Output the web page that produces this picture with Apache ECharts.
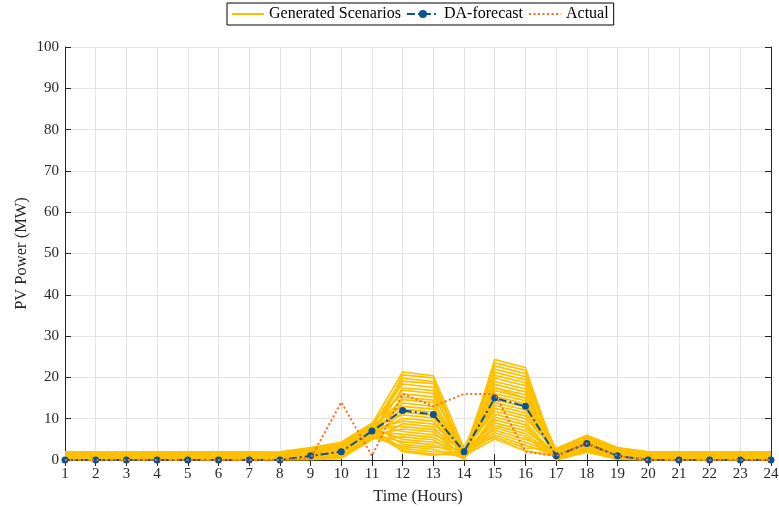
<!DOCTYPE html>
<html>
<head>
<meta charset="utf-8">
<script src="https://cdn.jsdelivr.net/npm/echarts@6/dist/echarts.min.js"></script>
<style>
  html, body { margin: 0; padding: 0; background: #fff; }
  #chart { width: 779px; height: 507px; }
</style>
</head>
<body>
<div id="chart"></div>
<script>
// Hours of the day
const hours = [1,2,3,4,5,6,7,8,9,10,11,12,13,14,15,16,17,18,19,20,21,22,23,24];

// Day-ahead forecast (MW)
const daForecast = [0,0,0,0,0,0,0,0,1,2,7,12,11,2,15,13,1,4,1,0,0,0,0,0];

// Actual PV output (MW)
const actual = [0,0,0,0,0,0,0,0,0.4,14,1,16,13,16,16,2,1,4,1,0,0,0,0,0];

// Generated PV scenarios (MW), one array per scenario
const sc01 = [1.8,1.9,1.7,1.9,1.8,2.0,1.9,1.8,2.9,4.1,8.7,21.3,20.4,2.8,17.5,15.0,2.7,5.8,2.9,1.9,1.8,2.0,1.9,1.8];
const sc02 = [0.2,0.1,0.3,0.2,0.1,0.2,0.3,0.2,0.4,1.0,5.3,20.6,19.9,0.3,24.3,22.4,0.2,2.3,0.5,0.1,0.2,0.1,0.2,0.3];
const sc03 = [1.2,1.1,1.3,1.0,1.2,1.1,1.3,1.2,2.1,3.3,7.9,19.8,19.0,1.9,9.7,7.8,1.6,4.9,2.2,1.3,1.2,1.1,1.2,1.0];
const sc04 = [0.7,0.8,0.6,0.8,0.7,0.6,0.8,0.7,1.2,2.1,6.4,19.1,18.5,1.0,21.2,19.4,0.9,3.6,1.1,0.6,0.8,0.7,0.6,0.8];
const sc05 = [1.5,1.6,1.4,1.5,1.7,1.5,1.6,1.4,2.6,3.8,8.3,18.4,17.6,2.4,13.2,11.4,2.3,5.4,2.6,1.6,1.5,1.7,1.5,1.4];
const sc06 = [0.4,0.3,0.5,0.4,0.3,0.5,0.4,0.3,0.7,1.4,5.7,17.5,16.8,0.6,19.0,17.2,0.5,2.7,0.7,0.4,0.3,0.5,0.4,0.3];
const sc07 = [1.0,0.9,1.1,1.0,0.9,1.0,1.1,0.9,1.7,2.8,7.2,16.9,16.1,1.5,23.5,21.7,1.3,4.3,1.7,1.0,0.9,1.1,1.0,0.9];
const sc08 = [1.9,2.0,1.8,1.9,2.0,1.9,1.8,2.0,3.0,4.3,8.9,16.0,15.3,2.9,7.2,5.0,2.8,6.0,3.0,2.0,1.9,1.8,2.0,1.9];
const sc09 = [0.1,0.2,0.1,0.0,0.1,0.2,0.1,0.1,0.2,0.6,5.1,15.2,14.5,0.1,16.8,15.0,0.1,2.1,0.3,0.1,0.0,0.1,0.2,0.1];
const sc10 = [1.3,1.4,1.3,1.2,1.4,1.3,1.2,1.4,2.2,3.5,7.6,14.6,13.9,2.0,22.0,20.2,1.8,5.0,2.3,1.3,1.4,1.2,1.3,1.4];
const sc11 = [0.6,0.5,0.7,0.6,0.5,0.7,0.6,0.5,1.0,1.8,6.1,13.8,13.0,0.8,11.1,9.2,0.7,3.2,0.9,0.5,0.6,0.7,0.5,0.6];
const sc12 = [1.7,1.6,1.8,1.7,1.6,1.7,1.8,1.6,2.7,3.9,8.5,13.0,12.3,2.6,20.5,18.7,2.5,5.6,2.7,1.7,1.8,1.6,1.7,1.8];
const sc13 = [0.9,1.0,0.8,0.9,1.0,0.8,0.9,1.0,1.5,2.5,6.8,12.3,11.6,1.3,6.0,3.6,1.1,3.9,1.4,0.9,1.0,0.8,0.9,1.0];
const sc14 = [0.3,0.4,0.2,0.3,0.4,0.3,0.2,0.4,0.5,1.2,5.5,11.6,10.8,0.4,17.5,15.8,0.3,2.5,0.6,0.3,0.2,0.4,0.3,0.2];
const sc15 = [1.4,1.5,1.6,1.4,1.5,1.6,1.4,1.5,2.4,3.6,8.0,10.9,10.2,2.2,14.6,12.8,2.0,5.2,2.4,1.5,1.4,1.6,1.5,1.4];
const sc16 = [0.8,0.7,0.9,0.8,0.7,0.9,0.8,0.7,1.4,2.3,6.6,10.1,9.4,1.2,22.8,20.9,1.0,3.7,1.3,0.8,0.7,0.9,0.8,0.7];
const sc17 = [1.1,1.2,1.0,1.1,1.2,1.0,1.1,1.2,1.9,3.0,7.4,9.4,8.7,1.7,9.0,7.1,1.5,4.6,1.9,1.1,1.2,1.0,1.1,1.2];
const sc18 = [0.0,0.1,0.0,0.1,0.0,0.1,0.0,0.1,0.1,0.4,4.9,8.8,8.0,0.0,19.8,18.0,0.0,1.9,0.2,0.0,0.1,0.0,0.1,0.0];
const sc19 = [1.6,1.7,1.5,1.6,1.7,1.5,1.6,1.7,2.5,3.7,8.2,8.1,7.4,2.3,12.5,10.7,2.2,5.3,2.5,1.6,1.5,1.7,1.6,1.5];
const sc20 = [0.5,0.6,0.4,0.5,0.6,0.4,0.5,0.6,0.9,1.6,5.9,7.5,6.8,0.7,15.4,13.6,0.6,3.0,0.8,0.5,0.6,0.4,0.5,0.6];
const sc21 = [1.9,1.8,2.0,1.9,1.8,2.0,1.9,1.8,2.8,4.0,8.8,6.9,6.1,2.7,5.5,2.9,2.6,5.9,2.8,1.9,2.0,1.8,1.9,2.0];
const sc22 = [1.0,1.1,0.9,1.0,1.1,0.9,1.0,1.1,1.6,2.6,7.0,6.2,5.5,1.4,18.3,16.5,1.2,4.1,1.6,1.0,1.1,0.9,1.0,1.1];
const sc23 = [0.2,0.3,0.2,0.1,0.3,0.2,0.1,0.3,0.3,0.8,5.2,5.6,4.9,0.2,10.4,8.5,0.2,2.2,0.4,0.2,0.3,0.1,0.2,0.3];
const sc24 = [1.4,1.3,1.5,1.4,1.3,1.5,1.4,1.3,2.3,3.4,7.8,5.0,4.3,2.1,16.1,14.3,1.9,4.8,2.1,1.4,1.3,1.5,1.4,1.3];
const sc25 = [0.7,0.6,0.8,0.7,0.6,0.8,0.7,0.6,1.1,2.0,6.3,4.4,3.7,0.9,8.4,6.4,0.8,3.4,1.0,0.7,0.6,0.8,0.7,0.6];
const sc26 = [1.8,1.7,1.9,1.8,1.7,1.9,1.8,1.7,2.7,3.9,8.6,3.8,3.1,2.5,13.9,12.1,2.4,5.7,2.7,1.8,1.7,1.9,1.8,1.7];
const sc27 = [0.4,0.5,0.3,0.4,0.5,0.3,0.4,0.5,0.6,1.3,5.6,3.3,2.6,0.5,7.8,5.7,0.4,2.6,0.6,0.4,0.5,0.3,0.4,0.5];
const sc28 = [1.2,1.3,1.1,1.2,1.3,1.1,1.2,1.3,2.0,3.1,7.5,2.8,2.0,1.8,6.6,4.3,1.6,4.5,2.0,1.2,1.3,1.1,1.2,1.3];
const sc29 = [0.9,0.8,1.0,0.9,0.8,1.0,0.9,0.8,1.3,2.2,6.5,2.3,1.5,1.1,5.1,2.2,1.0,3.5,1.2,0.9,0.8,1.0,0.9,0.8];
const sc30 = [1.5,1.4,1.6,1.5,1.4,1.6,1.5,1.4,2.4,3.6,7.9,2.0,1.1,2.2,11.8,10.0,2.0,5.1,2.3,1.5,1.4,1.6,1.5,1.4];

const scenarios = [sc01,sc02,sc03,sc04,sc05,sc06,sc07,sc08,sc09,sc10,sc11,sc12,sc13,sc14,sc15,
                   sc16,sc17,sc18,sc19,sc20,sc21,sc22,sc23,sc24,sc25,sc26,sc27,sc28,sc29,sc30];

const yTicks = [0,10,20,30,40,50,60,70,80,90,100];

const FONT = '"Liberation Serif", "DejaVu Serif", serif';
const YELLOW = '#FFC000';
const BLUE = '#0B5394';
const ORANGE = '#FF6A1C';

const pairs = arr => hours.map((h, i) => [h, arr[i]]);

const series = scenarios.map(s => ({
  name: 'Generated Scenarios',
  type: 'line',
  data: pairs(s),
  showSymbol: false,
  symbol: 'none',
  lineStyle: { color: YELLOW, width: 1.7 },
  itemStyle: { color: YELLOW },
  silent: true,
  z: 2
}));

series.push({
  name: 'DA-forecast',
  type: 'line',
  data: pairs(daForecast),
  symbol: 'circle',
  symbolSize: 7,
  itemStyle: { color: BLUE },
  lineStyle: { color: BLUE, width: 2, type: [8, 3, 2, 3] },
  z: 4
});

series.push({
  name: 'Actual',
  type: 'line',
  data: pairs(actual),
  symbol: 'none',
  itemStyle: { color: ORANGE },
  lineStyle: { color: ORANGE, width: 2, type: [2, 2.5] },
  z: 5
});

const axisText = { color: '#262626', fontFamily: FONT, fontSize: 15 };

const chart = echarts.init(document.getElementById('chart'), null, { renderer: 'canvas' });
chart.setOption({
  animation: false,
  backgroundColor: '#ffffff',
  legend: {
    data: [
      { name: 'Generated Scenarios', itemStyle: { opacity: 0 } },
      'DA-forecast',
      { name: 'Actual', itemStyle: { opacity: 0 } }
    ],
    top: 3,
    left: 227,
    itemWidth: 32,
    itemHeight: 10,
    itemGap: 5,
    padding: [3, 5, 3, 4],
    borderColor: '#000',
    borderWidth: 1,
    backgroundColor: '#fff',
    textStyle: { fontFamily: FONT, fontSize: 16, color: '#000' },
    selectedMode: false
  },
  grid: { left: 65, right: 8, top: 47, bottom: 47, outerBoundsMode: 'none', containLabel: false },
  xAxis: [{
    type: 'value',
    min: 1, max: 24, interval: 1,
    name: 'Time (Hours)',
    nameLocation: 'middle',
    nameGap: 28,
    nameMoveOverlap: false,
    nameTextStyle: { fontFamily: FONT, fontSize: 16.5, color: '#262626' },
    axisLine: { show: true, lineStyle: { color: '#262626', width: 1 } },
    axisTick: { show: true, inside: true, length: 6, lineStyle: { color: '#262626' } },
    axisLabel: Object.assign({ margin: 7 }, axisText),
    splitLine: { show: true, lineStyle: { color: '#e3e3e3', width: 1 } }
  }, {
    type: 'value',
    position: 'top',
    min: 1, max: 24, interval: 1,
    axisLine: { show: true, lineStyle: { color: '#262626', width: 1 } },
    axisTick: { show: true, inside: true, length: 6, lineStyle: { color: '#262626' } },
    axisLabel: { show: false },
    splitLine: { show: false }
  }],
  yAxis: [{
    type: 'value',
    min: 0, max: 100, interval: 10,
    name: 'PV Power (MW)',
    nameLocation: 'middle',
    nameGap: 35,
    nameMoveOverlap: false,
    nameTextStyle: { fontFamily: FONT, fontSize: 16.5, color: '#262626' },
    axisLine: { show: true, lineStyle: { color: '#262626', width: 1 } },
    axisTick: { show: true, inside: true, length: 6, lineStyle: { color: '#262626' } },
    axisLabel: Object.assign({ margin: 6, formatter: v => yTicks.includes(v) ? String(v) : '' }, axisText),
    splitLine: { show: true, lineStyle: { color: '#e3e3e3', width: 1 } }
  }, {
    type: 'value',
    position: 'right',
    min: 0, max: 100, interval: 10,
    axisLine: { show: true, lineStyle: { color: '#262626', width: 1 } },
    axisTick: { show: true, inside: true, length: 6, lineStyle: { color: '#262626' } },
    axisLabel: { show: false },
    splitLine: { show: false }
  }],
  series: series
});
</script>
</body>
</html>
